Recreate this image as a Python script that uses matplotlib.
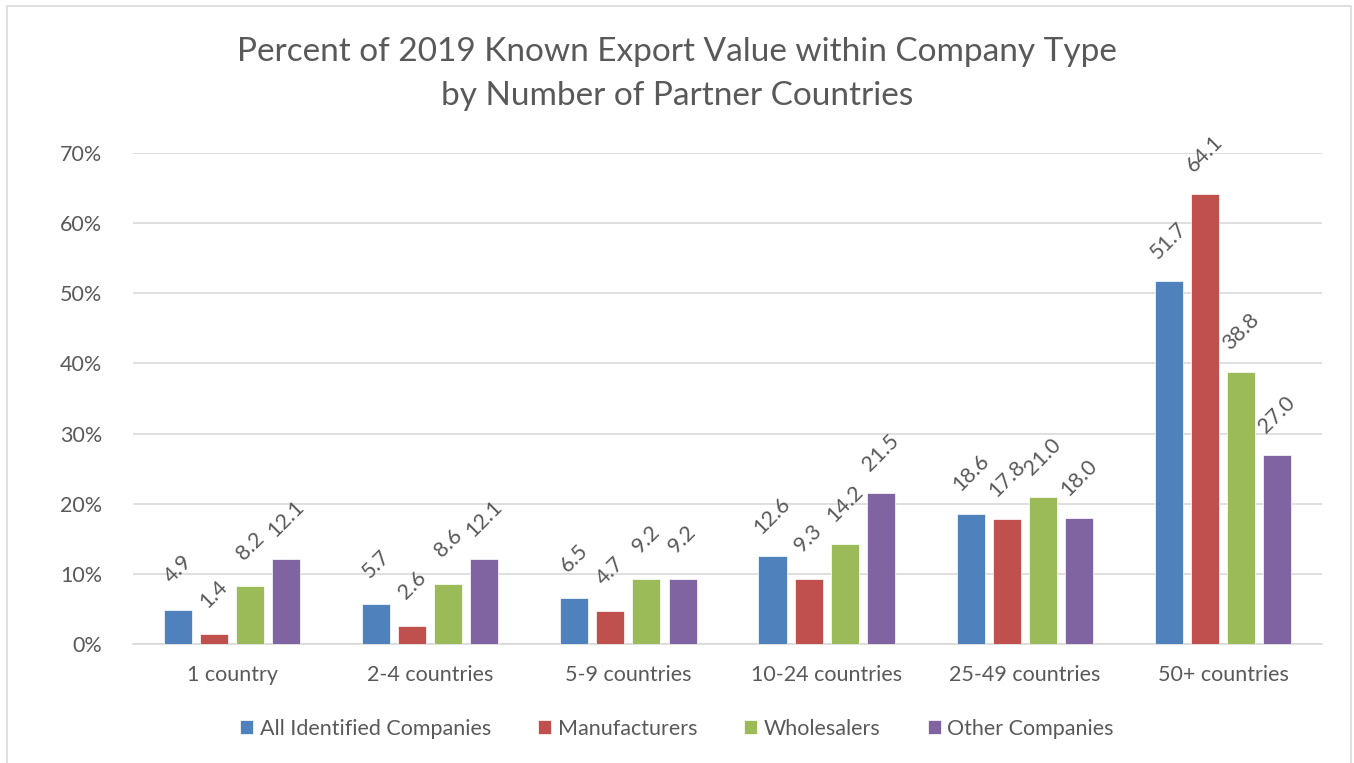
import numpy as np
import matplotlib
matplotlib.use("Agg")
import matplotlib.pyplot as plt
from matplotlib.patches import Rectangle

plt.rcParams['font.family'] = ['Lato', 'DejaVu Sans']

# Data
categories = ["1 country", "2-4 countries", "5-9 countries", "10-24 countries",
              "25-49 countries", "50+ countries"]
series_names = ["All Identified Companies", "Manufacturers", "Wholesalers", "Other Companies"]
all_companies = [4.9, 5.7, 6.5, 12.6, 18.6, 51.7]
manufacturers = [1.4, 2.6, 4.7, 9.3, 17.8, 64.1]
wholesalers = [8.2, 8.6, 9.2, 14.2, 21.0, 38.8]
other_companies = [12.1, 12.1, 9.2, 21.5, 18.0, 27.0]
yticks = [0, 10, 20, 30, 40, 50, 60, 70]

series = [all_companies, manufacturers, wholesalers, other_companies]
colors = ["#4F81BD", "#C0504D", "#9BBB59", "#8064A2"]
text_color = "#595959"

fig = plt.figure(figsize=(13.54, 7.63), dpi=100)
ax = fig.add_axes([0.0982, 0.156, 0.8782, 0.6435])

x = np.arange(len(categories))
width = 0.1414
step = 0.182
for i, (vals, col, name) in enumerate(zip(series, colors, series_names)):
    pos = x + (i - 1.5) * step
    ax.bar(pos, vals, width, color=col, edgecolor="white", linewidth=0.5, label=name, zorder=3)
    for p, v in zip(pos, vals):
        ax.annotate(f"{v:.1f}", (p, v), xytext=(0, 29), textcoords="offset points",
                    ha="center", va="center", rotation=45, fontsize=15.5, color=text_color)

ax.set_xlim(-0.5, len(categories) - 0.5)
ax.set_ylim(0, 70)
ax.set_yticks(yticks)
ax.set_yticklabels([f"{t}%" for t in yticks])
ax.set_xticks(x)
ax.set_xticklabels(categories)
ax.tick_params(axis="both", length=0, labelsize=15.5, labelcolor=text_color)
ax.tick_params(axis="y", pad=22)
ax.tick_params(axis="x", pad=15)
ax.grid(axis="y", color="#D9D9D9", linewidth=1.2, zorder=0)
for s in ["top", "right", "left"]:
    ax.spines[s].set_visible(False)
ax.spines["bottom"].set_color("#D9D9D9")
ax.spines["bottom"].set_linewidth(1.2)

fig.text(0.5, 0.903, "Percent of 2019 Known Export Value within Company Type\nby Number of Partner Countries",
         ha="center", va="center", fontsize=24, color=text_color, linespacing=1.55)

ax.legend(loc="center", bbox_to_anchor=(0.5, 0.045), bbox_transform=fig.transFigure,
          ncol=4, frameon=False, fontsize=15.5, labelcolor=text_color,
          handlelength=0.6, handleheight=0.6, handletextpad=0.3, columnspacing=2.2)

# chart border
fig.patches.append(Rectangle((7 / 1354, -0.01), 1344 / 1354, 1 - 6 / 763 + 0.01,
                             transform=fig.transFigure, fill=False,
                             edgecolor="#D9D9D9", linewidth=1.2))

fig.savefig("out.png", dpi=100)
